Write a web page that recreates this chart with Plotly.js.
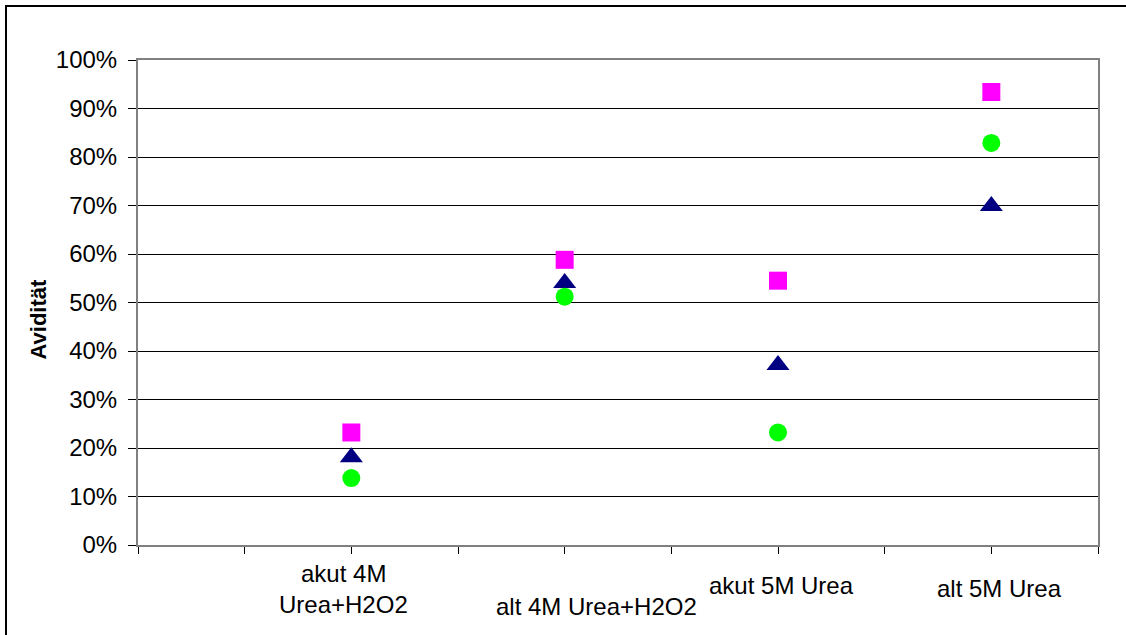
<!DOCTYPE html>
<html>
<head>
<meta charset="utf-8">
<script src="https://cdn.plot.ly/plotly-3.0.1.min.js"></script>
<style>html,body{margin:0;padding:0;background:#fff;}#chart{width:1126px;height:635px;}</style>
</head>
<body>
<div id="chart"></div>
<script>
// Data
var categories = ['akut 4M Urea+H2O2', 'alt 4M Urea+H2O2', 'akut 5M Urea', 'alt 5M Urea'];
var categoryPos = [2, 4, 6, 8];
var seriesSquare = [0.232, 0.588, 0.545, 0.934];
var seriesTriangle = [0.181, 0.540, 0.371, 0.699];
var seriesCircle = [0.138, 0.512, 0.232, 0.829];
var yTickVals = [0, 0.1, 0.2, 0.3, 0.4, 0.5, 0.6, 0.7, 0.8, 0.9, 1.0];
var yTickText = ['0%', '10%', '20%', '30%', '40%', '50%', '60%', '70%', '80%', '90%', '100%'];
var xTickVals = [0, 1, 2, 3, 4, 5, 6, 7, 8, 9];
var labelLines = [['akut 4M', 'Urea+H2O2'], ['alt 4M Urea+H2O2'], ['akut 5M Urea'], ['alt 5M Urea']];

// label placement (style): x offset in axis units, y centers in px
var labelX = [1.93, 4.30, 6.03, 8.08];
var labelYpx = [[573, 604], [606], [585], [588]];

var font = 'Arial, "Liberation Sans", sans-serif';

var traces = [
  {x: categoryPos, y: seriesSquare, mode: 'markers', type: 'scatter', name: 'square',
   marker: {symbol: 'square', size: 18, color: '#FF00FF'}, hoverinfo: 'skip'},
  {x: categoryPos, y: seriesTriangle, mode: 'markers', type: 'scatter', name: 'triangle',
   marker: {symbol: 'triangle-up', size: 20, color: '#000080'}, hoverinfo: 'skip'},
  {x: categoryPos, y: seriesCircle, mode: 'markers', type: 'scatter', name: 'circle',
   marker: {symbol: 'circle', size: 18, color: '#00FF00'}, hoverinfo: 'skip'}
];

var annotations = [];
for (var i = 0; i < categories.length; i++) {
  for (var j = 0; j < labelLines[i].length; j++) {
    annotations.push({
      xref: 'x', yref: 'paper', x: labelX[i], y: 0,
      xanchor: 'center', yanchor: 'middle',
      yshift: -(labelYpx[i][j] - 545),
      text: labelLines[i][j], showarrow: false,
      font: {family: font, size: 24, color: '#000'}
    });
  }
}
annotations.push({
  xref: 'paper', yref: 'paper', x: 0, y: 0.5, xanchor: 'center', yanchor: 'middle',
  xshift: -100, yshift: -17,
  text: '<b>Avidität</b>', textangle: -90, showarrow: false,
  font: {family: font, size: 22, color: '#000'}
});

var layout = {
  width: 1126, height: 635,
  margin: {l: 138, r: 28, t: 60, b: 90, pad: 0},
  paper_bgcolor: '#fff', plot_bgcolor: '#fff',
  showlegend: false,
  xaxis: {
    range: [0, 9], tickmode: 'array', tickvals: xTickVals, showticklabels: false,
    ticks: 'outside', ticklen: 7, tickcolor: '#000', tickwidth: 1,
    showgrid: false, zeroline: false,
    showline: true, linecolor: '#808080', linewidth: 2, mirror: true, fixedrange: true
  },
  yaxis: {
    range: [0, 1], tickmode: 'array', tickvals: yTickVals, ticktext: yTickText,
    ticks: 'outside', ticklen: 8, tickcolor: '#000', tickwidth: 1,
    ticklabelstandoff: 6,
    tickfont: {family: font, size: 24, color: '#000'},
    showgrid: true, gridcolor: '#000', gridwidth: 1, zeroline: false,
    showline: true, linecolor: '#808080', linewidth: 2, mirror: true, fixedrange: true
  },
  annotations: annotations,
  shapes: [
    {type: 'rect', xref: 'paper', yref: 'paper', xsizemode: 'pixel', ysizemode: 'pixel',
     xanchor: 0, yanchor: 1, x0: -132, x1: 1100, y0: 54, y1: -700,
     line: {color: '#000', width: 2}, fillcolor: 'rgba(0,0,0,0)'}
  ]
};

Plotly.newPlot('chart', traces, layout, {displayModeBar: false, staticPlot: true});
</script>
</body>
</html>
